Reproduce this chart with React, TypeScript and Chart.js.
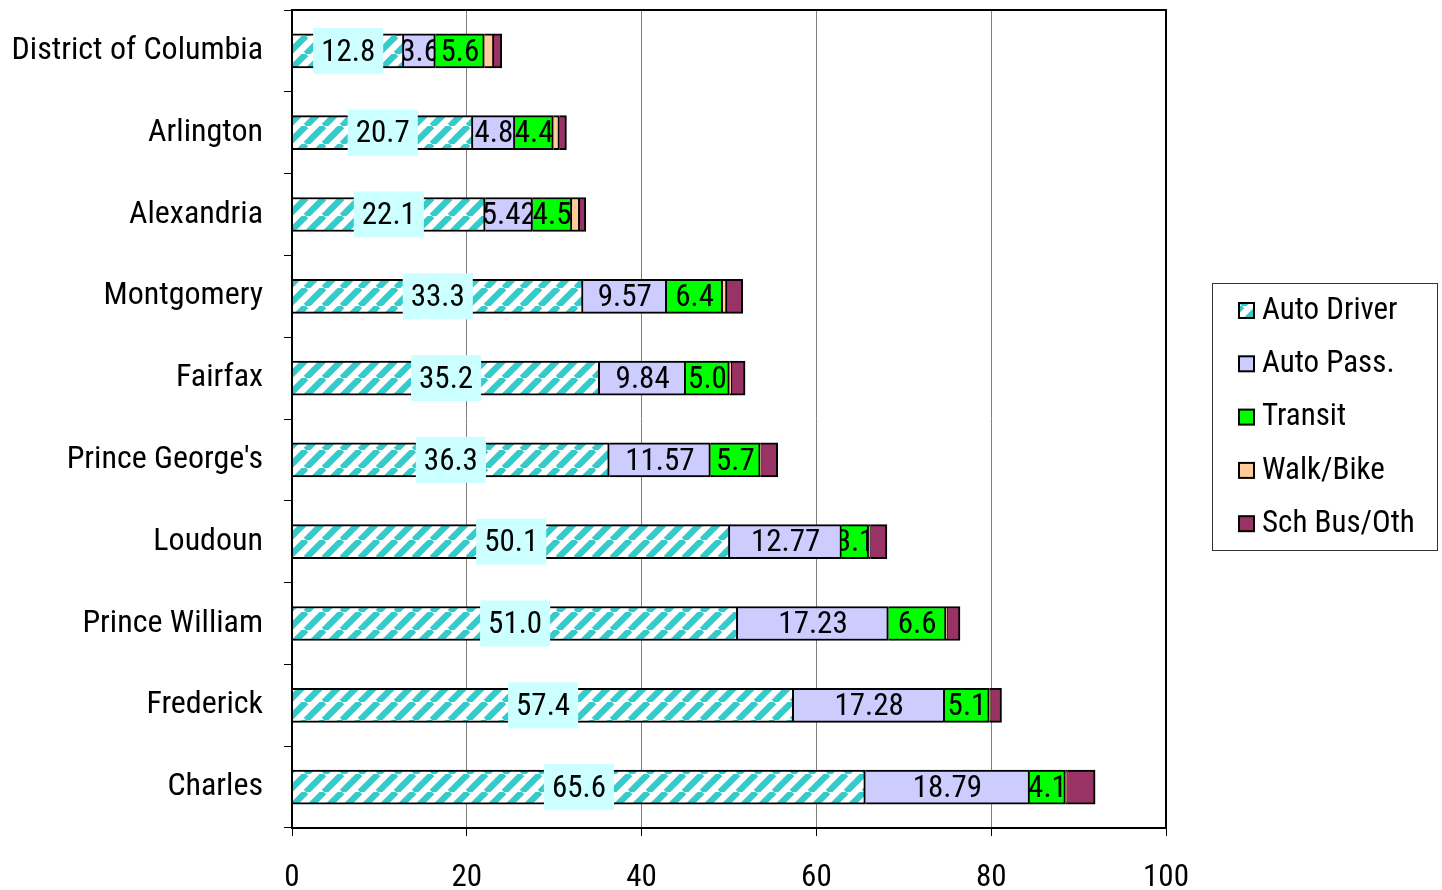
import React, { useEffect, useRef } from "react";
import { Chart, registerables } from "chart.js";

Chart.register(...registerables);

const categories = [
  "District of Columbia",
  "Arlington",
  "Alexandria",
  "Montgomery",
  "Fairfax",
  "Prince George's",
  "Loudoun",
  "Prince William",
  "Frederick",
  "Charles",
];
const autoDriver = [12.8, 20.7, 22.1, 33.3, 35.2, 36.3, 50.1, 51.0, 57.4, 65.6];
const autoPass = [3.6, 4.8, 5.42, 9.57, 9.84, 11.57, 12.77, 17.23, 17.28, 18.79];
const transit = [5.6, 4.4, 4.5, 6.4, 5.0, 5.7, 3.1, 6.6, 5.1, 4.1];
const walkBike = [1.1, 0.7, 0.9, 0.5, 0.3, 0.2, 0.2, 0.2, 0.2, 0.2];
const schBus = [0.9, 0.8, 0.7, 1.8, 1.5, 1.8, 1.9, 1.4, 1.2, 3.2];
const seriesNames = ["Auto Driver", "Auto Pass.", "Transit", "Walk/Bike", "Sch Bus/Oth"];
const xTicks = [0, 20, 40, 60, 80, 100];

const FONT = "'Roboto Condensed', 'DejaVu Sans Condensed', sans-serif";

function makePattern(): CanvasPattern | string {
  const c = document.createElement("canvas");
  const T = 18;
  c.width = T;
  c.height = T;
  const g = c.getContext("2d");
  if (!g) return "#33cccc";
  g.fillStyle = "#ffffff";
  g.fillRect(0, 0, T, T);
  g.strokeStyle = "#33cccc";
  g.lineWidth = 6.4;
  for (const x0 of [-T, 0, T]) {
    g.beginPath();
    g.moveTo(x0, T);
    g.lineTo(x0 + T, 0);
    g.stroke();
  }
  const p = g.createPattern(c, "repeat");
  return p || "#33cccc";
}

const labelPlugin = {
  id: "segLabels",
  afterDatasetsDraw(chart: any) {
    const ctx = chart.ctx;
    ctx.save();
    ctx.font = `31px ${FONT}`;
    ctx.textAlign = "center";
    ctx.textBaseline = "middle";
    for (let d = 0; d < 3; d++) {
      const meta = chart.getDatasetMeta(d);
      const data = chart.data.datasets[d].data as number[];
      meta.data.forEach((el: any, i: number) => {
        const v = data[i];
        const txt = d === 1 ? String(v) : v.toFixed(1);
        const x0 = Math.min(el.x, el.base);
        const x1 = Math.max(el.x, el.base);
        const cx = (x0 + x1) / 2;
        const cy = el.y + 2;
        if (d === 0) {
          const w = ctx.measureText(txt).width + 16;
          ctx.fillStyle = "#ccffff";
          ctx.fillRect(cx - w / 2, el.y - 23, w, 46);
          ctx.fillStyle = "#000";
          ctx.fillText(txt, cx, cy);
        } else {
          ctx.save();
          ctx.beginPath();
          ctx.rect(x0 - 1, el.y - 30, x1 - x0 + 1, 60);
          ctx.clip();
          ctx.fillStyle = "#000";
          ctx.fillText(txt, cx, cy);
          ctx.restore();
        }
      });
    }
    ctx.restore();
  },
};

const framePlugin = {
  id: "frameLegend",
  afterDraw(chart: any) {
    const ctx = chart.ctx;
    const a = chart.chartArea;
    ctx.save();
    ctx.strokeStyle = "#000";
    ctx.lineWidth = 2;
    ctx.strokeRect(a.left, a.top, a.right - a.left, a.bottom - a.top);
    ctx.lineWidth = 1;
    ctx.strokeStyle = "#333";
    ctx.strokeRect(1212.5, 283.5, 225, 267);
    ctx.font = `31px ${FONT}`;
    ctx.textAlign = "left";
    ctx.textBaseline = "middle";
    chart.data.datasets.forEach((ds: any, i: number) => {
      const cy = 310 + i * 53.3;
      ctx.fillStyle = ds.backgroundColor;
      ctx.fillRect(1239, cy - 7, 15, 15);
      ctx.lineWidth = 2;
      ctx.strokeStyle = "#000";
      ctx.strokeRect(1239, cy - 7, 15, 15);
      ctx.fillStyle = "#000";
      ctx.fillText(ds.label, 1262, cy + 1);
    });
    ctx.restore();
  },
};

export default function App() {
  const ref = useRef<HTMLCanvasElement | null>(null);
  useEffect(() => {
    if (!ref.current) return;
    const pattern = makePattern();
    const colors: any[] = [pattern, "#ccccff", "#00ff00", "#ffcc99", "#993366"];
    const values = [autoDriver, autoPass, transit, walkBike, schBus];
    const chart = new Chart(ref.current, {
      type: "bar",
      data: {
        labels: categories,
        datasets: values.map((v, i) => ({
          label: seriesNames[i],
          data: v,
          backgroundColor: colors[i],
          borderColor: "#000",
          borderWidth: 2,
          barThickness: 34,
        })),
      },
      options: {
        indexAxis: "y",
        animation: false,
        responsive: false,
        maintainAspectRatio: false,
        layout: { padding: { top: 10, right: 276, left: 0, bottom: 0 } },
        plugins: {
          legend: { display: false },
          tooltip: { enabled: false },
        },
        scales: {
          x: {
            stacked: true,
            min: 0,
            max: 100,
            afterBuildTicks: (scale: any) => {
              scale.ticks = xTicks.map((v) => ({ value: v }));
            },
            afterFit: (scale: any) => {
              scale.height = 62;
              scale.paddingLeft = 0;
              scale.paddingRight = 0;
            },
            ticks: {
              font: { family: FONT, size: 31 },
              color: "#000",
              padding: 24,
              maxRotation: 0,
            },
            grid: {
              color: (c: any) =>
                c.tick && (c.tick.value === 0 || c.tick.value === 100) ? "rgba(0,0,0,0)" : "#808080",
              tickColor: "#000",
              tickLength: 8,
              lineWidth: 1,
            },
            border: { display: true, color: "#000", width: 2 },
          },
          y: {
            stacked: true,
            afterFit: (scale: any) => {
              scale.width = 292;
              scale.paddingTop = 0;
              scale.paddingBottom = 0;
            },
            ticks: {
              font: { family: FONT, size: 32 },
              color: "#000",
              padding: 21,
            },
            grid: {
              drawOnChartArea: false,
              tickColor: "#000",
              tickLength: 8,
              offset: true,
            },
            border: { display: true, color: "#000", width: 2 },
          },
        },
      },
      plugins: [labelPlugin, framePlugin],
    });
    return () => chart.destroy();
  }, []);
  return (
    <div style={{ position: "fixed", left: 0, top: 0, width: 1442, height: 890, background: "#fff" }}>
      <canvas ref={ref} width={1442} height={890} style={{ width: 1442, height: 890 }} />
    </div>
  );
}
